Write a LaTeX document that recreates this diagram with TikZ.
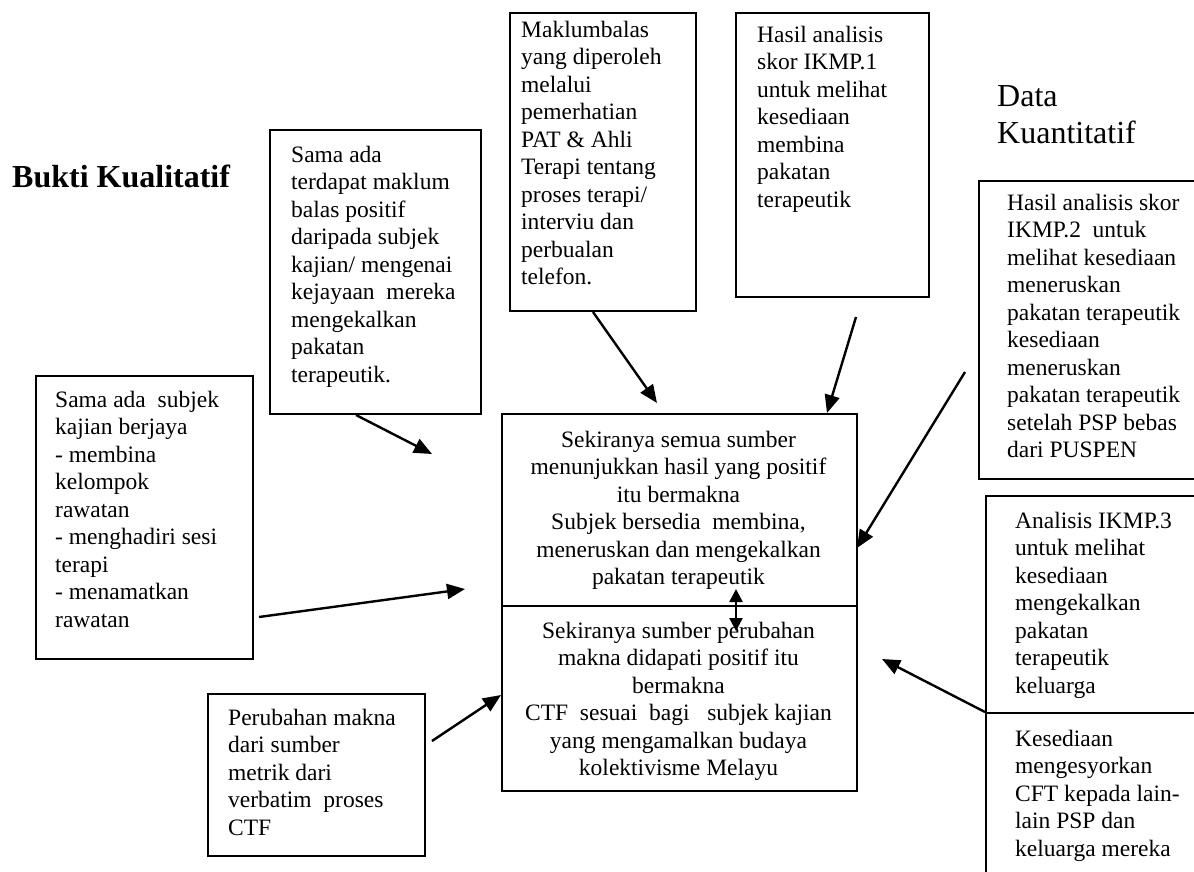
\documentclass[tikz,border=0pt]{standalone}
\usepackage{fontspec}
\setmainfont{Liberation Serif}
\usetikzlibrary{arrows.meta}
\begin{document}
\begin{tikzpicture}[x=1pt,y=-1pt,
  frame/.style={draw, line width=2pt, inner sep=0pt, anchor=north west},
  txt/.style={anchor=north west, inner sep=0pt, align=left, font=\fontsize{23.5}{27.5}\selectfont},
  ctxt/.style={anchor=north, inner sep=0pt, align=center, font=\fontsize{23.5}{27.5}\selectfont},
  head/.style={anchor=base west, inner sep=0pt, align=left, font=\fontsize{32}{37}\selectfont},
  link/.style={line width=2.4pt, -{Triangle[length=18pt,width=15pt]}},
  dlink/.style={line width=2.4pt, {Triangle[length=13pt,width=13pt]}-{Triangle[length=13pt,width=13pt]}}
]
\useasboundingbox (0,0) rectangle (1194,871);
\clip (0,0) rectangle (1194,871);

% headings (base anchor sits on the last line)
\node[head, font=\bfseries\fontsize{32}{37}\selectfont] (hq) at (12,187) {Bukti Kualitatif};
\node[head] (hk) at (997,143) {Data\\Kuantitatif};

% frames
\node[frame, minimum width=211pt, minimum height=284pt] (fa) at (269,129) {};
\node[frame, minimum width=186pt, minimum height=298pt] (fb) at (509,12) {};
\node[frame, minimum width=193pt, minimum height=284pt] (fc) at (735,12) {};
\node[frame, minimum width=260pt, minimum height=298pt] (fd) at (978,180) {};
\node[frame, minimum width=260pt, minimum height=217pt] (fe1) at (985,495) {};
\node[frame, minimum width=260pt, minimum height=200pt] (fe2) at (985,712) {};
\node[frame, minimum width=355pt, minimum height=192pt] (ff1) at (501,413) {};
\node[frame, minimum width=355pt, minimum height=185pt] (ff2) at (501,605) {};
\node[frame, minimum width=217pt, minimum height=283pt] (fg) at (35,375) {};
\node[frame, minimum width=217pt, minimum height=162pt] (fh) at (207,693) {};

% texts: a strut on the first line fixes its baseline 19.25pt below the top
\node[txt] (la) at (291,142.75) {\strut Sama ada\\terdapat maklum\\balas positif\\daripada subjek\\kajian/ mengenai\\kejayaan\ \ mereka\\mengekalkan\\pakatan\\terapeutik.};
\node[txt] (lb) at (521,17.75) {\strut Maklumbalas\\yang diperoleh\\melalui\\pemerhatian\\PAT \& Ahli\\Terapi tentang\\proses terapi/\\interviu dan\\perbualan\\telefon.};
\node[txt] (lc) at (757,22.75) {\strut Hasil analisis\\skor IKMP.1\\untuk melihat\\kesediaan\\membina\\pakatan\\terapeutik};
\node[txt] (ld) at (1007,190.75) {\strut Hasil analisis skor\\IKMP.2\ \ untuk\\melihat kesediaan\\meneruskan\\pakatan terapeutik\\kesediaan\\meneruskan\\pakatan terapeutik\\setelah PSP bebas\\dari PUSPEN};
\node[txt] (le1) at (1015,508.75) {\strut Analisis IKMP.3\\untuk melihat\\kesediaan\\mengekalkan\\pakatan\\terapeutik\\keluarga};
\node[txt] (le2) at (1015,726.75) {\strut Kesediaan\\mengesyorkan\\CFT kepada lain-\\lain PSP dan\\keluarga mereka};
\node[ctxt] (lf1) at (678.5,427.75) {\strut Sekiranya semua sumber\\menunjukkan hasil yang positif\\itu bermakna\\Subjek bersedia\ \ membina,\\meneruskan dan mengekalkan\\pakatan terapeutik};
\node[ctxt] (lf2) at (678.5,618.75) {\strut Sekiranya sumber perubahan\\makna didapati positif itu\\bermakna\\CTF\ \ sesuai\ \ bagi\ \ \ subjek kajian\\yang mengamalkan budaya\\kolektivisme Melayu};
\node[txt] (lg) at (55,387.75) {\strut Sama ada\ \ subjek\\kajian berjaya\\- membina\\kelompok\\rawatan\\- menghadiri sesi\\terapi\\- menamatkan\\rawatan};
\node[txt] (lh) at (228,705.75) {\strut Perubahan makna\\dari sumber\\metrik dari\\verbatim\ \ proses\\CTF};

% connector ends
\coordinate (pa) at (432,454);
\coordinate (pb) at (657,403);
\coordinate (sc) at (856,317);
\coordinate (pc) at (827,413);
\coordinate (sd) at (965,372);
\coordinate (pd) at (857,548);
\coordinate (pe) at (882,659);
\coordinate (sg) at (259,617);
\coordinate (pg) at (465,589);
\coordinate (sh) at (432,741);
\coordinate (ph) at (501,695);
\coordinate (m1) at (736,589);
\coordinate (m2) at (736,631);

% connectors
\draw[link] ([xshift=87pt]fa.south west) -- (pa);
\draw[link] ([xshift=84pt]fb.south west) -- (pb);
\draw[link] (sc) -- (pc);
\draw[link] (sd) -- (pd);
\draw[link] (fe2.north west) -- (pe);
\draw[link] (sg) -- (pg);
\draw[link] (sh) -- (ph);
\draw[dlink] (m1) -- (m2);
\end{tikzpicture}
\end{document}
